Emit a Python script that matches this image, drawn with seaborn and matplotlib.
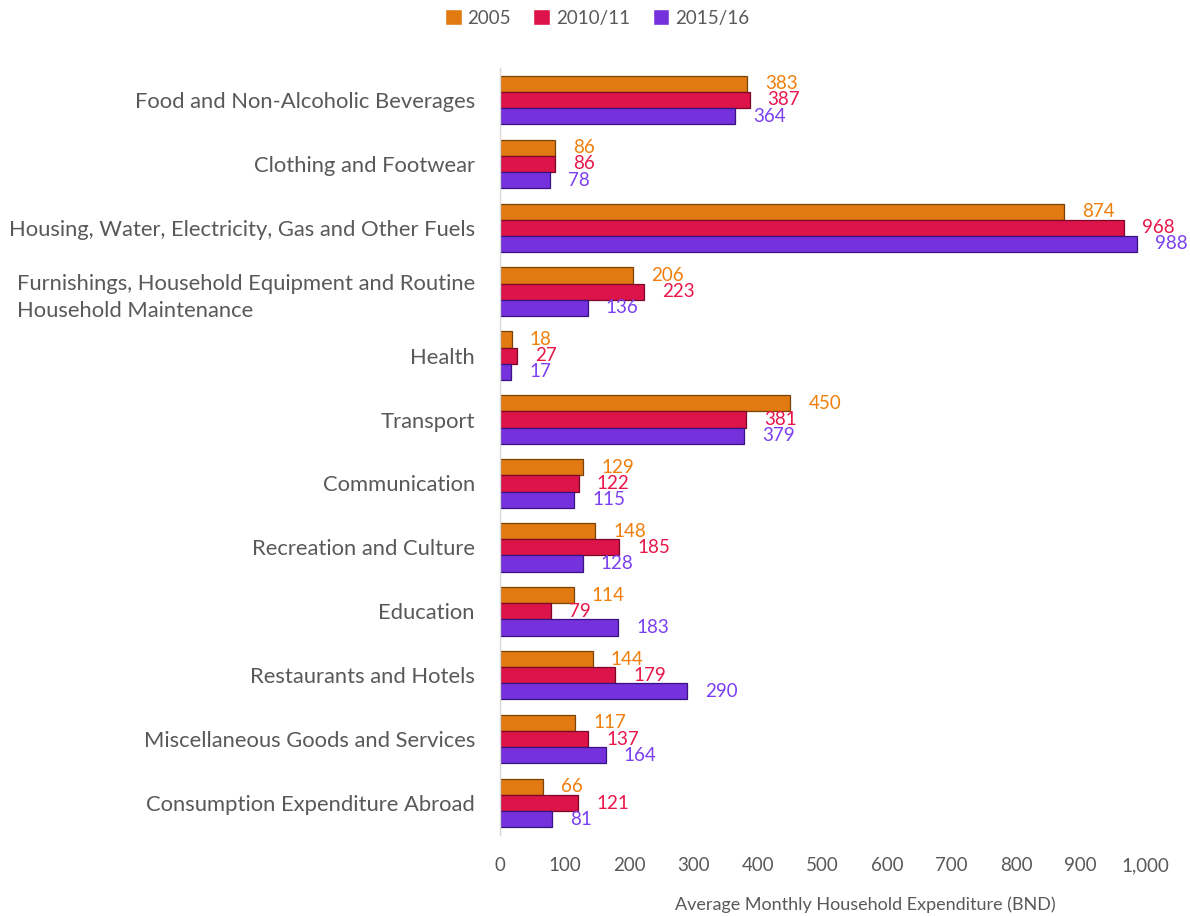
import numpy as np, pandas as pd, matplotlib
matplotlib.use('Agg')
import matplotlib.pyplot as plt
import seaborn as sns

sns.set_style('white')
plt.rcParams['font.family'] = ['Lato', 'DejaVu Sans']

categories = [
    'Food and Non-Alcoholic Beverages',
    'Clothing and Footwear',
    'Housing, Water, Electricity, Gas and Other Fuels',
    'Furnishings, Household Equipment and Routine\nHousehold Maintenance',
    'Health',
    'Transport',
    'Communication',
    'Recreation and Culture',
    'Education',
    'Restaurants and Hotels',
    'Miscellaneous Goods and Services',
    'Consumption Expenditure Abroad',
]
years = ['2005', '2010/11', '2015/16']
v2005 = [383, 86, 874, 206, 18, 450, 129, 148, 114, 144, 117, 66]
v2010 = [387, 86, 968, 223, 27, 381, 122, 185, 79, 179, 137, 121]
v2015 = [364, 78, 988, 136, 17, 379, 115, 128, 183, 290, 164, 81]

bar_colors = ['#E27A12', '#DC1449', '#7431DC']
edge_colors = ['#7A4208', '#7A0828', '#381380']
text_colors = ['#F07E0A', '#E8164A', '#7B3FF0']

df = pd.DataFrame({
    'category': categories * 3,
    'year': np.repeat(years, len(categories)),
    'value': v2005 + v2010 + v2015,
})

fig = plt.figure(figsize=(11.9, 9.16), dpi=100)
ax = fig.add_axes([500 / 1190, 1 - 835 / 916, 645 / 1190, (835 - 68) / 916])

sns.barplot(data=df, y='category', x='value', hue='year', orient='h',
            palette=bar_colors, saturation=1, width=0.76, gap=0, ax=ax, legend=True)

for cont, ec, tc in zip(ax.containers, edge_colors, text_colors):
    for p in cont:
        p.set_edgecolor(ec)
        p.set_linewidth(0.9)
    ax.bar_label(cont, padding=13, color=tc, fontsize=13.5, clip_on=False)

ax.set_xlim(0, 1000)
ax.set_xticks(range(0, 1001, 100))
ax.set_xticklabels([f'{t:,}' for t in range(0, 1001, 100)])
ax.tick_params(axis='x', length=0, labelsize=13.5, labelcolor='#595959', pad=16)
ax.tick_params(axis='y', length=0, labelsize=15.8, labelcolor='#595959', pad=18)
for lab in ax.get_yticklabels():
    lab.set_multialignment('left')
    lab.set_linespacing(1.45)
ax.set_ylabel('')
ax.set_xlabel('Average Monthly Household Expenditure (BND)', fontsize=13,
              color='#595959')
ax.xaxis.set_label_coords(0.566, -0.08)

for s in ['top', 'right', 'bottom']:
    ax.spines[s].set_visible(False)
ax.spines['left'].set_color('#D9D9D9')
ax.spines['left'].set_linewidth(1.0)

handles, labels = ax.get_legend_handles_labels()
ax.legend_.remove()
fig.legend(handles, labels, loc='center', bbox_to_anchor=(597 / 1190, 1 - 18 / 916),
           ncol=3, frameon=False, fontsize=13.5, handlelength=0.9, handleheight=0.9,
           handletextpad=0.3, columnspacing=1.2, labelcolor='#595959')

fig.savefig('out.png', dpi=100)
